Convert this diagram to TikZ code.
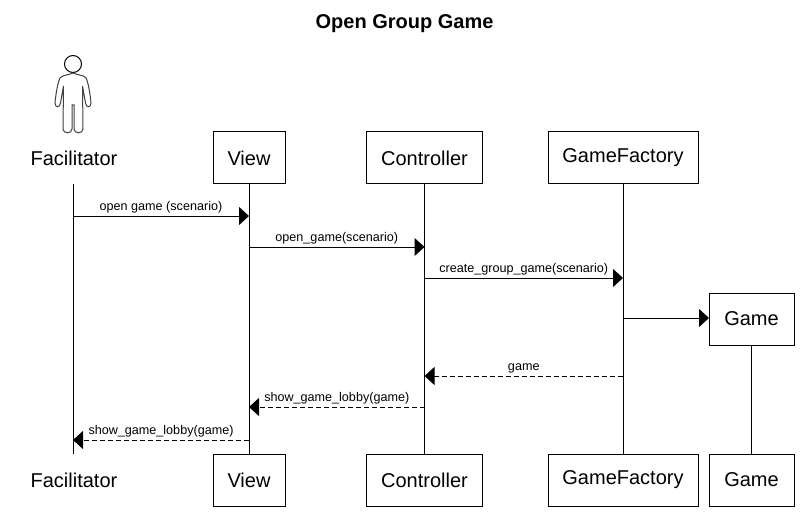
\documentclass[tikz,border=0pt]{standalone}
\usepackage{fontspec}
\setmainfont{Liberation Sans}
\usetikzlibrary{arrows.meta}
\tikzset{
  box/.style={draw, align=center, inner sep=0pt, minimum height=52pt, font=\fontsize{20}{24}\selectfont},
  actorname/.style={align=center, inner sep=0pt, font=\fontsize{20}{24}\selectfont},
  msg/.style={-{Triangle[length=10pt, width=18pt]}, line width=1pt},
  ret/.style={msg, dash pattern=on 5pt off 3pt},
  lbl/.style={midway, anchor=base, inner sep=0pt, yshift=5.3pt, font=\fontsize{12.6}{15}\selectfont},
}
\begin{document}
\begin{tikzpicture}[x=1pt, y=-1pt, line width=1pt]
    \useasboundingbox (0,0) rectangle (808,513);

    \node[font=\fontsize{20}{24}\selectfont\bfseries, inner sep=0pt]  (T)  at (404.5, 24)    {Open Group Game};

    % actor
    \node[draw, circle, minimum size=17pt, inner sep=0pt]  (head)  at (73, 64)    {};
    \draw[line width=1pt, black!75]
      (head.south) .. controls (69,75) and (62,75) .. (60,78)
      .. controls (58,82) and (56,92) .. (55,103)
      .. controls (55,108) and (60,108) .. (60.5,103)
      -- (63.5,86) -- (63,129)
      .. controls (63,134) and (72,134) .. (72,129)
      -- (72,105) -- (74,105) -- (74,129)
      .. controls (74,134) and (83,134) .. (83,129)
      -- (82.5,86) -- (85.5,103)
      .. controls (86,108) and (91,108) .. (91,103)
      .. controls (90,92) and (88,82) .. (86,78)
      .. controls (84,75) and (77,75) .. (head.south);

    % top row
    \node[actorname]                   (F)   at (74,  158)    {Facilitator};
    \node[box, minimum width=72pt]     (V)   at (249, 158)    {View};
    \node[box, minimum width=116pt]    (C)   at (424.5, 158)  {Controller};
    \node[box, minimum width=150pt]    (GF)  at (623, 158)    {GameFactory};
    \node[box, minimum width=85pt]     (G)   at (751.5, 319)  {Game};

    % bottom row
    \node[actorname]                   (Fb)  at (74,  480)    {Facilitator};
    \node[box, minimum width=72pt]     (Vb)  at (249, 480)    {View};
    \node[box, minimum width=116pt]    (Cb)  at (424.5, 480)  {Controller};
    \node[box, minimum width=150pt]    (GFb) at (623, 480)    {GameFactory};
    \node[box, minimum width=85pt]     (Gb)  at (751.5, 480)  {Game};

    % lifelines
    \coordinate (Ft) at (73, 184);
    \coordinate (Fe) at (73, 454);
    \draw (Ft) -- (Fe);
    \draw (V)  -- (Vb);
    \draw (C)  -- (Cb);
    \draw (GF) -- (GFb);
    \draw (G)  -- (Gb);

    % message ends
    \coordinate (m1a) at ( 73, 216);    \coordinate (m1b) at (249, 216);
    \coordinate (m2a) at (249, 247);    \coordinate (m2b) at (424.5, 247);
    \coordinate (m3a) at (424.5, 278);  \coordinate (m3b) at (623, 278);
    \coordinate (m4a) at (623, 318);    \coordinate (m4b) at (709, 318);
    \coordinate (m5a) at (623, 376);    \coordinate (m5b) at (424.5, 376);
    \coordinate (m6a) at (424.5, 407);  \coordinate (m6b) at (249, 407);
    \coordinate (m7a) at (249, 440);    \coordinate (m7b) at ( 73, 440);

    \draw[msg] (m1a) -- node[lbl] (l1) {open game (scenario)} (m1b);
    \draw[msg] (m2a) -- node[lbl] (l2) {open\_game(scenario)} (m2b);
    \draw[msg] (m3a) -- node[lbl] (l3) {create\_group\_game(scenario)} (m3b);
    \draw[msg] (m4a) -- (m4b);
    \draw[ret] (m5a) -- node[lbl] (l5) {game} (m5b);
    \draw[ret] (m6a) -- node[lbl] (l6) {show\_game\_lobby(game)} (m6b);
    \draw[ret] (m7a) -- node[lbl] (l7) {show\_game\_lobby(game)} (m7b);
\end{tikzpicture}
\end{document}
